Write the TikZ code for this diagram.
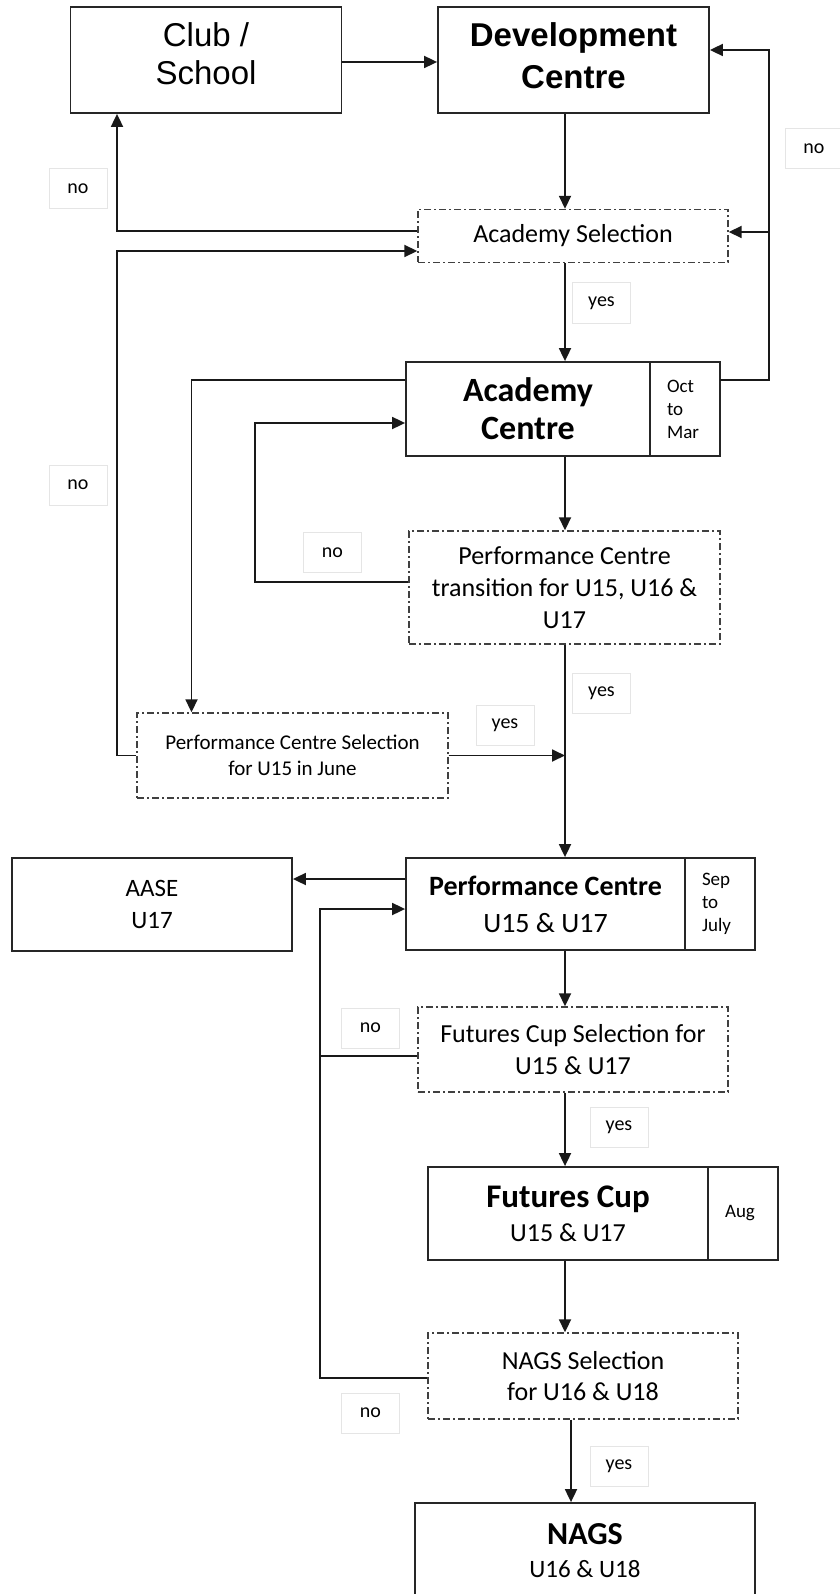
\documentclass[tikz,border=0pt]{standalone}
\usepackage{fontspec}
\setmainfont{Carlito}
\newfontfamily\arialf{Liberation Sans}
\usetikzlibrary{arrows.meta,calc}
\begin{document}
\begin{tikzpicture}[x=1pt,y=-1pt,
  box/.style={draw=black!85, line width=1.8pt, fill=white, inner sep=0pt, align=center},
  selbox/.style={draw=black!75, line width=1.4pt, dash pattern=on 7pt off 3pt on 2pt off 3pt, fill=white, inner sep=0pt, align=center},
  sidebox/.style={box, outer sep=0pt, inner xsep=17pt, inner ysep=0pt, text width=36pt, align=left, anchor=west, font=\fontsize{19}{23}\selectfont},
  lbl/.style={draw=black!10, line width=1pt, fill=white, minimum width=58pt, minimum height=40pt, inner sep=0pt, font=\fontsize{20}{24}\selectfont},
  arr/.style={line width=1.8pt, draw=black!90, -{Triangle[length=13pt,width=12pt]}},
  ln/.style={line width=1.8pt, draw=black!90},
  selfont/.style={font=\fontsize{26}{31.7}\selectfont}
]
\fill[white] (0,0) rectangle (839,1594);
\useasboundingbox (0,0) rectangle (839,1594);

% helper columns
\coordinate (spine) at (565,0);
\coordinate (lx) at (117,0);
\coordinate (rx) at (769,0);
\coordinate (ax) at (191.5,0);
\coordinate (tx) at (255,0);
\coordinate (px) at (320,0);
\coordinate (nx) at (571,0);

% boxes
\node[box, minimum width=271pt, minimum height=106pt, font=\arialf\fontsize{33}{38}\selectfont] (club) at (206,60) {Club /\\School\rule[-13pt]{0pt}{13pt}};
\node[box, minimum width=271pt, minimum height=106pt, font=\arialf\bfseries\fontsize{33}{42}\selectfont] (dev) at (573.5,60) {Development\\Centre\rule[-9pt]{0pt}{9pt}};
\node[selbox, selfont, minimum width=310pt, minimum height=53pt] (acadsel) at (573,236) {Academy Selection};
\node[box, minimum width=244pt, minimum height=94pt, font=\bfseries\fontsize{34}{38}\selectfont] (acad) at (528,409) {Academy\\Centre};
\node[sidebox, minimum height=94pt] (acadm) at ([xshift=-0.9pt]acad.east) {Oct\\to\\Mar};
\node[selbox, selfont, minimum width=311pt, minimum height=113pt] (pct) at (564.5,587.5) {Performance Centre\\transition for U15, U16 \&\\U17};
\node[selbox, minimum width=311pt, minimum height=85pt, font=\fontsize{21}{26}\selectfont] (pcsel) at (292.5,755.5) {Performance Centre Selection\\for U15 in June};
\node[box, minimum width=279pt, minimum height=92pt, font=\fontsize{28}{37}\selectfont] (pc) at (545.5,904) {\textbf{Performance Centre}\\U15 \& U17};
\node[sidebox, minimum height=92pt] (pcm) at ([xshift=-0.9pt]pc.east) {Sep\\to\\July};
\node[box, minimum width=280pt, minimum height=93pt, font=\fontsize{25}{32}\selectfont] (aase) at (152,904.5) {AASE\\U17};
\node[selbox, selfont, minimum width=310pt, minimum height=85pt] (fcsel) at (573,1049.5) {Futures Cup Selection for\\U15 \& U17};
\node[box, minimum width=280pt, minimum height=93pt, font=\fontsize{26}{34}\selectfont] (fc) at (568,1213.5) {{\bfseries\fontsize{33}{34}\selectfont Futures Cup}\\U15 \& U17};
\node[sidebox, minimum height=93pt] (fcm) at ([xshift=-0.9pt]fc.east) {Aug};
\node[selbox, selfont, minimum width=310pt, minimum height=86pt] (nagssel) at (583,1376) {NAGS Selection\\for U16 \& U18};
\node[box, minimum width=340pt, minimum height=96pt, font=\fontsize{25}{33}\selectfont] (nags) at (585,1551) {{\bfseries\fontsize{32}{33}\selectfont NAGS}\\U16 \& U18};

% ports
\coordinate (cr) at ([yshift=-2pt]club.east);
\coordinate (asl1) at ([yshift=5pt]acadsel.west);
\coordinate (asl2) at ([yshift=-15pt]acadsel.west);
\coordinate (asr) at ([yshift=4pt]acadsel.east);
\coordinate (dr) at ([yshift=10pt]dev.east);
\coordinate (ar) at ([yshift=29pt]acadm.east);
\coordinate (al) at ([yshift=29pt]acad.west);
\coordinate (ail) at ([yshift=-14pt]acad.west);
\coordinate (tl) at ([yshift=5.5pt]pct.west);
\coordinate (pl1) at ([yshift=25pt]pc.west);
\coordinate (pl2) at ([yshift=-5pt]pc.west);
\coordinate (fcl) at ([yshift=-6.5pt]fcsel.west);
\coordinate (nl) at ([yshift=-2pt]nagssel.west);

% connectors
\draw[arr] (cr) -- (cr -| dev.west);
\draw[arr] (dev.south -| spine) -- (acadsel.north -| spine);
\draw[arr] (asl1) -| (club.south -| lx);
\draw[arr] (pcsel.west) -| (asl2 -| lx) -- (asl2);
\draw[arr] (acadsel.south -| spine) -- (acad.north -| spine);
\draw[arr] (ar) -| (rx |- dr) -- (dr);
\draw[arr] (rx |- asr) -- (asr);
\draw[arr] (al) -| (pcsel.north -| ax);
\draw[arr] (acad.south -| spine) -- (pct.north -| spine);
\draw[arr] (tl) -| (tx |- ail) -- (ail);
\draw[arr] (pct.south -| spine) -- (pc.north -| spine);
\draw[arr] (pcsel.east) -- (pcsel.east -| spine);
\draw[arr] (pl1) -- (pl1 -| aase.east);
\draw[arr] (nl) -| (px |- pl2) -- (pl2);
\draw[ln] (fcl) -- (fcl -| px);
\draw[arr] (pc.south -| spine) -- (fcsel.north -| spine);
\draw[arr] (fcsel.south -| spine) -- (fc.north -| spine);
\draw[arr] (fc.south -| spine) -- (nagssel.north -| spine);
\draw[arr] (nagssel.south -| nx) -- (nags.north -| nx);

% labels
\node[lbl] (no1) at (78,188.5) {no};
\node[lbl] (no2) at (814,149) {no};
\node[lbl] (yes1) at (601.5,303) {yes};
\node[lbl] (no3) at (78,485) {no};
\node[lbl] (no4) at (332.5,552.5) {no};
\node[lbl] (yes2) at (601.5,693.5) {yes};
\node[lbl] (yes3) at (505,725) {yes};
\node[lbl] (no5) at (370.5,1028) {no};
\node[lbl] (yes4) at (619,1127.5) {yes};
\node[lbl] (no6) at (370.5,1413) {no};
\node[lbl] (yes5) at (619,1466.5) {yes};
\end{tikzpicture}
\end{document}
